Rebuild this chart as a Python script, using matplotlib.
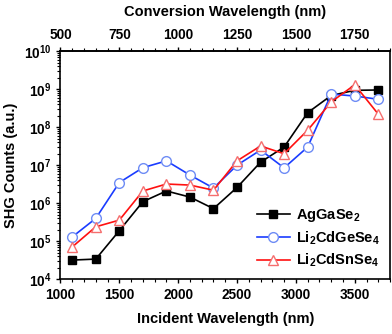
import numpy as np
import matplotlib
matplotlib.use('Agg')
import matplotlib.pyplot as plt
from matplotlib.ticker import MultipleLocator, FixedLocator, FuncFormatter, LogLocator, NullFormatter

plt.rcParams['font.family'] = ['Liberation Sans', 'DejaVu Sans']
plt.rcParams['font.weight'] = 'bold'
plt.rcParams['mathtext.fontset'] = 'custom'
plt.rcParams['mathtext.rm'] = 'Liberation Sans:bold'
plt.rcParams['mathtext.it'] = 'Liberation Sans:bold'
plt.rcParams['mathtext.bf'] = 'Liberation Sans:bold'
plt.rcParams['mathtext.default'] = 'rm'

# incident wavelengths (nm)
wavelength = [1100, 1300, 1500, 1700, 1900, 2100, 2300, 2500, 2700, 2900, 3100, 3300, 3500, 3700]

# SHG counts (a.u.)
aggase2 = [3.2e4, 3.4e4, 1.9e5, 1.1e6, 2.1e6, 1.45e6, 7.2e5, 2.6e6, 1.2e7, 3.0e7,
           2.4e8, 6.8e8, 9.3e8, 9.5e8]
li2cdgese4 = [1.3e5, 4.0e5, 3.5e6, 8.6e6, 1.3e7, 5.5e6, 2.5e6, 1.0e7, 2.5e7, 8.5e6,
              3.0e7, 7.4e8, 6.6e8, 5.4e8]
li2cdsnse4 = [7.1e4, 2.4e5, 3.6e5, 2.1e6, 3.2e6, 3.0e6, 2.2e6, 1.3e7, 3.2e7, 2.0e7,
              8.3e7, 4.6e8, 1.3e9, 2.2e8]

top_ticks = [500, 750, 1000, 1250, 1500, 1750]

fig = plt.figure(figsize=(3.92, 3.34), dpi=100)
ax = fig.add_axes([0.1543, 0.1638, 0.8407, 0.6832])

ax.plot(wavelength, aggase2, color='black', lw=1.2, marker='s', ms=6,
        mfc='black', mec='black', label='AgGaSe$_2$', zorder=3)
ax.plot(wavelength, li2cdgese4, color='#1a3cff', lw=1.2, marker='o', ms=7,
        mfc='white', mec='#6e8cf5', mew=1.0, label='Li$_2$CdGeSe$_4$', zorder=4)
ax.plot(wavelength, li2cdsnse4, color='#ff1010', lw=1.2, marker='^', ms=7,
        mfc='white', mec='#f56e6e', mew=1.0, label='Li$_2$CdSnSe$_4$', zorder=5)

ax.set_yscale('log')
ax.set_ylim(1e4, 1e10)
ax.set_xlim(1000, 3800)

ax.xaxis.set_major_locator(MultipleLocator(500))
ax.xaxis.set_minor_locator(MultipleLocator(100))
ax.yaxis.set_major_locator(LogLocator(base=10, numticks=10))
ax.yaxis.set_minor_locator(LogLocator(base=10, subs=np.arange(2, 10), numticks=20))
ax.yaxis.set_minor_formatter(NullFormatter())
ax.yaxis.set_major_formatter(FuncFormatter(lambda v, p: r'$10^{%d}$' % round(np.log10(v))))

ax.tick_params(which='both', direction='out', labelsize=9.8, right=False, top=False)
ax.tick_params(which='major', length=3, width=1)
ax.tick_params(which='minor', length=2, width=0.8)
for s in ax.spines.values():
    s.set_linewidth(1.2)

ax.set_xlabel('Incident Wavelength (nm)', fontsize=10.5, fontweight='bold', labelpad=7)
ax.set_ylabel('SHG Counts (a.u.)', fontsize=10.5, fontweight='bold', labelpad=4)

top = ax.secondary_xaxis('top', functions=(lambda x: x / 2, lambda x: x * 2))
top.xaxis.set_major_locator(FixedLocator(top_ticks))
top.xaxis.set_minor_locator(FixedLocator(np.arange(500, 1901, 50)))
top.tick_params(which='both', direction='out', labelsize=9.8)
top.tick_params(which='major', length=3, width=1)
top.tick_params(which='minor', length=2, width=0.8)
top.spines['top'].set_linewidth(1.2)
top.set_xlabel('Conversion Wavelength (nm)', fontsize=10.5, fontweight='bold', labelpad=9)

leg = ax.legend(loc='lower right', frameon=False, fontsize=10.5, handlelength=2.3,
                handletextpad=0.4, labelspacing=0.35, borderaxespad=0.3)

fig.savefig('out.png', dpi=100)
